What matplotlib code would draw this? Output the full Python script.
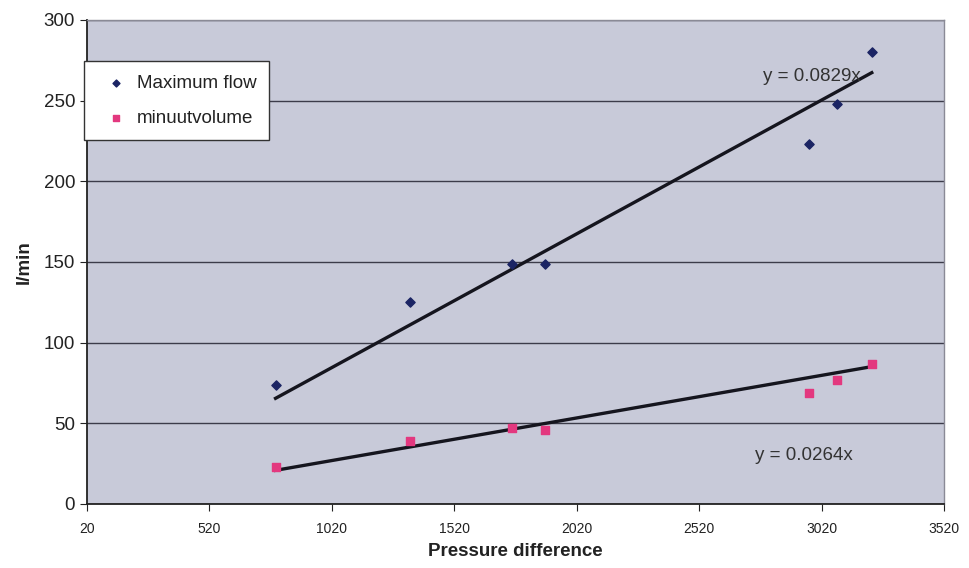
import matplotlib
matplotlib.use("Agg")
import matplotlib.pyplot as plt
import numpy as np

plt.rcParams['font.family'] = ['Liberation Sans', 'DejaVu Sans']

# measurements
pressure = [790, 1340, 1755, 1890, 2970, 3085, 3225]
max_flow = [74, 125, 149, 149, 223, 248, 280]
minuutvolume = [23, 39, 47, 46, 69, 77, 87]

# fitted slopes (trendlines through the origin)
slope_max = 0.0829
slope_min = 0.0264

x_ticks = np.arange(20, 3521, 500)
y_ticks = np.arange(0, 301, 50)

fig = plt.figure(figsize=(9.7, 5.68), dpi=100)
ax = fig.add_axes([0.0897, 0.1127, 0.8835, 0.8521])
ax.set_facecolor('#C8CAD9')

ax.set_xlim(20, 3520)
ax.set_ylim(0, 300)
ax.set_xticks(x_ticks)
ax.set_yticks(y_ticks)
ax.yaxis.grid(True, color='#3C3C4A', linewidth=1.0)
ax.set_axisbelow(True)

ax.scatter(pressure, max_flow, marker='D', s=22, color='#1B2464', zorder=3,
           label='Maximum flow')
ax.scatter(pressure, minuutvolume, marker='s', s=30, color='#E3387F', zorder=3,
           label='minuutvolume')

xs = np.array([min(pressure), max(pressure)])
ax.plot(xs, slope_max * xs, color='#15151E', linewidth=2.4, zorder=2)
ax.plot(xs, slope_min * xs, color='#15151E', linewidth=2.4, zorder=2)

ax.text(2780, 265, f'y = {slope_max}x', fontsize=13.5, color='#333333',
        va='center', ha='left')
ax.text(2750, 30, f'y = {slope_min}x', fontsize=13.5, color='#333333',
        va='center', ha='left')

for side in ['left', 'bottom']:
    ax.spines[side].set_color('#222222')
    ax.spines[side].set_linewidth(1.3)
for side in ['top', 'right']:
    ax.spines[side].set_color('#8A8A96')
    ax.spines[side].set_linewidth(1.0)

ax.tick_params(axis='y', labelsize=13.5, colors='#222222', length=5,
               direction='out')
ax.tick_params(axis='x', labelsize=10, colors='#222222', length=5,
               direction='out', pad=8)

ax.set_xlabel('Pressure difference', fontsize=13.5, fontweight='bold',
              color='#222222', labelpad=5)
ax.set_ylabel('l/min', fontsize=13.5, fontweight='bold', color='#222222',
              labelpad=8)

leg = fig.legend(loc='upper left', bbox_to_anchor=(0.0866, 0.892),
                 fontsize=13.5, frameon=True, fancybox=False,
                 handletextpad=0.1, borderpad=0.7, labelspacing=0.95,
                 borderaxespad=0, handlelength=2.0, markerscale=0.75)
leg.get_frame().set_edgecolor('#333333')
leg.get_frame().set_linewidth(1.0)
leg.get_frame().set_facecolor('white')
leg.get_frame().set_alpha(1)
for t in leg.get_texts():
    t.set_color('#222222')

fig.savefig('out.png', dpi=100, facecolor='white')
